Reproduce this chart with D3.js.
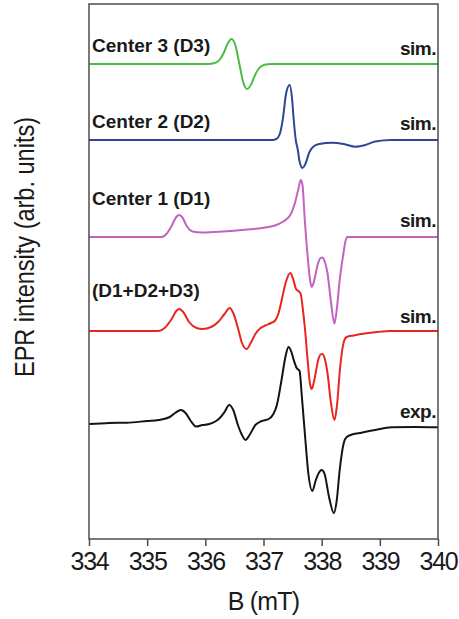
<!DOCTYPE html>
<html>
<head>
<meta charset="utf-8">
<script src="https://cdn.jsdelivr.net/npm/d3@7"></script>
<style>
  body { margin: 0; background: #fff; }
  svg { display: block; font-family: "Liberation Sans", Arial, sans-serif; }
</style>
</head>
<body>
<script>
// field axis (mT)
const xTicks = [334, 335, 336, 337, 338, 339, 340];

// spectra, [B (mT), intensity above own baseline]
const d3Center = [[334,0],[336.0,0],[336.1,0.03],[336.18,0.14],[336.25,0.45],[336.315,1.1],[336.38,2.0],[336.45,2.5],[336.52,1.8],[336.585,0],[336.65,-1.8],[336.72,-2.5],[336.79,-2.0],[336.855,-1.1],[336.92,-0.45],[336.99,-0.14],[337.07,-0.03],[337.15,0],[340,0]];

const d2Center = [[334,0],[337.15,0],[337.22,0.1],[337.28,0.6],[337.33,2.0],[337.39,4.7],[337.45,5.5],[337.49,4.2],[337.52,2.0],[337.555,0],[337.59,-1.0],[337.615,-2.0],[337.67,-2.8],[337.72,-2.4],[337.79,-1.2],[337.87,-0.6],[337.96,-0.4],[338.18,-0.27],[338.38,-0.4],[338.58,-0.67],[338.75,-0.5],[338.92,-0.15],[339.2,0],[340,0]];

const d1Center = [[334,0],[335.25,0],[335.33,0.3],[335.42,1.1],[335.5,2.0],[335.55,2.2],[335.6,2.0],[335.68,1.1],[335.78,0.55],[335.95,0.45],[336.3,0.55],[336.63,0.7],[336.9,0.85],[337.09,1.0],[337.22,1.2],[337.31,1.45],[337.4,1.8],[337.46,2.2],[337.54,3.4],[337.6,4.8],[337.64,5.7],[337.67,5.2],[337.71,1.7],[337.76,-2.0],[337.8,-4.3],[337.83,-5.0],[337.86,-4.6],[337.94,-2.6],[337.98,-2.1],[338.01,-2.05],[338.05,-2.4],[338.1,-3.6],[338.16,-6.5],[338.22,-8.65],[338.26,-7.2],[338.31,-4.3],[338.37,-1.8],[338.41,-0.4],[338.44,0],[340,0]];

const simSum = [[334,0],[335.2,0],[335.3,0.3],[335.42,1.2],[335.5,2.0],[335.55,2.2],[335.62,1.9],[335.72,0.9],[335.85,0.3],[335.95,0.2],[336.1,0.4],[336.22,0.9],[336.33,1.7],[336.42,2.3],[336.48,1.8],[336.56,0.3],[336.63,-1.2],[336.71,-1.8],[336.78,-1.2],[336.86,-0.3],[336.95,0.3],[337.03,0.55],[337.13,0.8],[337.2,1.05],[337.26,1.8],[337.31,3.0],[337.38,4.8],[337.46,5.8],[337.51,5.2],[337.56,4.2],[337.6,4.0],[337.64,3.7],[337.67,2.5],[337.71,0.4],[337.76,-3.0],[337.8,-5.3],[337.83,-5.8],[337.87,-5.0],[337.95,-2.7],[337.98,-2.35],[338.01,-2.3],[338.05,-2.7],[338.1,-4.2],[338.16,-7.2],[338.22,-8.9],[338.26,-7.6],[338.32,-3.5],[338.38,-1.1],[338.43,-0.6],[338.55,-0.45],[338.74,-0.25],[338.95,-0.1],[339.2,0],[340,0]];

const expSpec = [[334,0],[334.35,0.1],[334.65,0.13],[335.0,0.3],[335.2,0.4],[335.39,0.7],[335.48,1.1],[335.58,1.4],[335.66,1.1],[335.75,0.3],[335.84,-0.25],[335.95,-0.1],[336.07,0.0],[336.17,0.25],[336.24,0.55],[336.33,1.2],[336.41,1.9],[336.48,1.4],[336.56,-0.1],[336.63,-1.1],[336.69,-1.6],[336.76,-1.1],[336.86,-0.1],[336.97,0.3],[337.09,0.5],[337.17,1.0],[337.23,1.9],[337.31,4.4],[337.38,6.8],[337.43,7.7],[337.48,7.2],[337.52,6.4],[337.57,5.6],[337.62,5.3],[337.66,2.7],[337.72,-1.6],[337.77,-4.9],[337.84,-6.7],[337.9,-5.6],[337.96,-4.8],[338.0,-4.6],[338.05,-5.0],[338.13,-7.4],[338.21,-8.9],[338.26,-7.6],[338.31,-4.6],[338.38,-1.9],[338.43,-1.3],[338.55,-1.0],[338.63,-0.93],[338.78,-0.75],[338.92,-0.6],[339.2,-0.33],[339.6,-0.3],[340,-0.33]];

const seriesNames = ["Center 3 (D3)", "Center 2 (D2)", "Center 1 (D1)", "(D1+D2+D3)"];
const seriesTags = ["sim.", "sim.", "sim.", "sim.", "exp."];
const seriesOffsets = [47.5, 39.9, 30.2, 20.8, 11.5];
const seriesData = [d3Center, d2Center, d1Center, simSum, expSpec];
const seriesColors = ["#4cbb44", "#2e4598", "#c263c0", "#e8261f", "#141414"];

const W = 459, H = 619;
const m = { left: 89, right: 21, top: 4, bottom: 80 };

const svg = d3.select("body").append("svg")
  .attr("width", W)
  .attr("height", H);

const x = d3.scaleLinear().domain([334, 340]).range([m.left, W - m.right]);
const y = d3.scaleLinear().domain([0, 53.5]).range([H - m.bottom, m.top]);

svg.append("clipPath").attr("id", "frame")
  .append("rect")
  .attr("x", m.left).attr("y", m.top)
  .attr("width", W - m.left - m.right).attr("height", H - m.top - m.bottom);

const line = d3.line()
  .x(d => x(d[0]))
  .y(d => y(d[1]))
  .curve(d3.curveMonotoneX);

svg.append("g")
  .attr("clip-path", "url(#frame)")
  .selectAll("path")
  .data(seriesData)
  .join("path")
  .attr("fill", "none")
  .attr("stroke", (d, i) => seriesColors[i])
  .attr("stroke-width", 2)
  .attr("stroke-linejoin", "round")
  .attr("d", (d, i) => line(d.map(p => [p[0], p[1] + seriesOffsets[i]])));

// frame
svg.append("rect")
  .attr("x", m.left).attr("y", m.top)
  .attr("width", W - m.left - m.right).attr("height", H - m.top - m.bottom)
  .attr("fill", "none")
  .attr("stroke", "#4d4d4d")
  .attr("stroke-width", 1.5);

const xAxis = d3.axisBottom(x).tickValues(xTicks).tickSize(7).tickPadding(6).tickFormat(d3.format("d"));
const gx = svg.append("g")
  .attr("transform", `translate(0,${H - m.bottom})`)
  .call(xAxis);
gx.select(".domain").remove();
gx.selectAll(".tick line").attr("stroke", "#4d4d4d").attr("stroke-width", 1.5);
gx.selectAll(".tick text")
  .attr("fill", "#1a1a1a")
  .attr("font-size", 25)
  .attr("letter-spacing", "-1.3px")
  .attr("font-family", "'Liberation Sans', Arial, sans-serif");

svg.append("text")
  .attr("x", (m.left + W - m.right) / 2)
  .attr("y", 610)
  .attr("text-anchor", "middle")
  .attr("font-size", 25)
  .attr("letter-spacing", "-0.8px")
  .attr("fill", "#1a1a1a")
  .text("B (mT)");

svg.append("text")
  .attr("transform", `translate(34,247)rotate(-90)`)
  .attr("text-anchor", "middle")
  .attr("font-size", 27)
  .attr("textLength", 260)
  .attr("lengthAdjust", "spacingAndGlyphs")
  .attr("fill", "#1a1a1a")
  .text("EPR intensity (arb. units)");

// series labels
const nameBase = [52, 128, 205, 297];
const tagBase = [55, 130, 227, 323, 418];

svg.append("g").selectAll("text")
  .data(seriesNames)
  .join("text")
  .attr("x", 92)
  .attr("y", (d, i) => nameBase[i])
  .attr("font-size", 19)
  .attr("font-weight", "bold")
  .attr("fill", "#1a1a1a")
  .text(d => d);

svg.append("g").selectAll("text")
  .data(seriesTags)
  .join("text")
  .attr("x", 436)
  .attr("y", (d, i) => tagBase[i])
  .attr("text-anchor", "end")
  .attr("font-size", 19)
  .attr("font-weight", "bold")
  .attr("letter-spacing", "-0.5px")
  .attr("fill", "#1a1a1a")
  .text(d => d);
</script>
</body>
</html>
